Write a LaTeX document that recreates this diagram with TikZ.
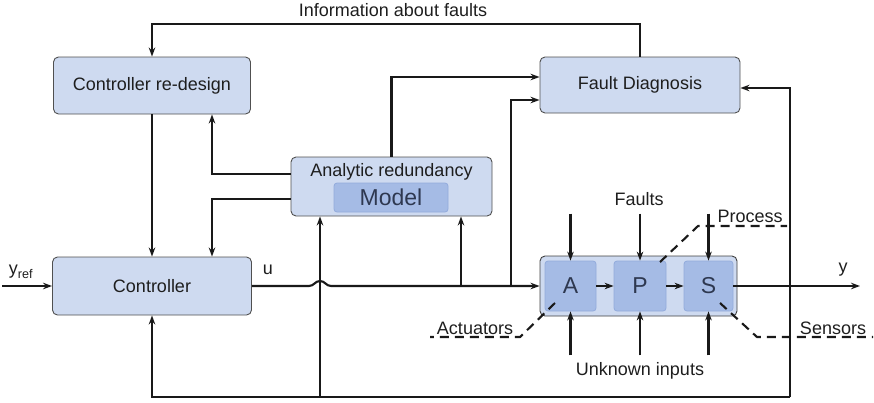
\documentclass[tikz,border=0pt]{standalone}
\usepackage{fontspec}
\setmainfont{Liberation Sans}
\usetikzlibrary{arrows.meta}
\definecolor{boxfill}{HTML}{CEDAF0}
\definecolor{innerfill}{HTML}{A5BBE5}
\definecolor{innerdraw}{HTML}{93ABDC}
\definecolor{boxdraw}{HTML}{505050}
\definecolor{txt}{HTML}{1E1E1E}
\definecolor{bigtxt}{HTML}{2E3850}
\begin{document}
\begin{tikzpicture}[x=1pt,y=-1pt,
  every node/.style={font=\fontsize{18}{21}\selectfont, text=txt, inner sep=0pt},
  blockbox/.style={draw=boxdraw, line width=0.9pt, fill=boxfill, rounded corners=5pt},
  innerbox/.style={draw=innerdraw, line width=0.8pt, fill=innerfill, rounded corners=3pt,
     font=\fontsize{23}{26}\selectfont, text=bigtxt},
  conn/.style={line width=2.1pt, draw=black!90},
  arr/.style={conn, -{Stealth[length=9pt,width=6.5pt]}},
  dashline/.style={line width=2.1pt, draw=black!90, dash pattern=on 9pt off 6pt}
]
\useasboundingbox (0,0) rectangle (874,402);

% blocks
\node[blockbox, minimum width=197pt, minimum height=57pt] (redesign) at (152,85.5) {Controller re-design};
\node[blockbox, minimum width=200pt, minimum height=56pt] (fd) at (640,85) {Fault Diagnosis};
\node[blockbox, minimum width=201pt, minimum height=59pt] (ar) at (391.5,186.5) {};
\node (artxt) at (391.5,172) {Analytic redundancy};
\node[innerbox, minimum width=114pt, minimum height=29pt] (model) at (391,197.5) {Model};
\node[blockbox, minimum width=199pt, minimum height=58pt] (ctrl) at (152,286) {Controller};
\node[blockbox, draw=boxdraw!80!black, minimum width=197pt, minimum height=60pt] (proc) at (638.5,286) {};
\node[innerbox, minimum width=51pt, minimum height=50pt] (A) at (570.5,286) {A};
\node[innerbox, minimum width=52pt, minimum height=50pt] (P) at (640,286) {P};
\node[innerbox, minimum width=49pt, minimum height=50pt] (S) at (708.5,286) {S};

% labels
\node (info) at (393,10) {Information about faults};
\node (ylab) at (21,272) {y\textsubscript{ref}};
\node (ulab) at (268,270) {u};
\node (youtlab) at (843,270) {y};
\node (faults) at (639,199) {Faults};
\node (unk) at (640,371) {Unknown inputs};
\node (proclab) at (750,216) {Process};
\node (actlab) at (475,328) {Actuators};
\node (senslab) at (833,328) {Sensors};

% coordinates
\coordinate (tl) at (152,24);
\coordinate (yin) at (2,286);
\coordinate (hop1) at (309,286);
\coordinate (hop2) at (331,286);
\coordinate (j1) at (461,286);
\coordinate (j2) at (511,286);
\coordinate (b1) at (790,397);
\coordinate (b2) at (320,397);
\coordinate (yend) at (860,286);

% connectors
\draw[arr] (fd.north) -- (fd.north |- tl) -| (redesign.north);
\draw[arr] (redesign.south) -- (ctrl.north);
\draw[arr] ([yshift=12.5pt]ar.west) -| ([xshift=60pt]redesign.south);
\draw[arr] ([yshift=-12.5pt]ar.west) -| ([xshift=60pt]ctrl.north);
\draw[arr] (ar.north) |- ([yshift=8pt]fd.west);
\draw[arr] (yin) -- (ctrl.west);
\draw[arr] (ctrl.east) -- (hop1) .. controls (314,286) and (315,281) .. (320,281)
   .. controls (325,281) and (326,286) .. (hop2) -- (proc.west);
\draw[arr] (j1) -- (j1 |- ar.south);
\draw[arr] (j2) |- ([yshift=-15pt]fd.west);
\draw[arr] (b1) |- ([yshift=-3pt]fd.east);
\draw[arr] (b1) -| (ctrl.south);
\draw[arr] (b2) -- (b2 |- ar.south);
\draw[arr] (S.east) -- (yend);
\draw[arr] (A.east) -- (P.west);
\draw[arr] (P.east) -- (S.west);

\foreach \n in {A,P,S}{
  \draw[arr] ([yshift=47pt]\n.north) -- (\n.north);
  \draw[arr] ([yshift=-44pt]\n.south) -- (\n.south);
}

% dashed leaders
\coordinate (pd1) at (660,262); \coordinate (pd2) at (698,226); \coordinate (pd3) at (787,226);
\coordinate (ad1) at (555,303); \coordinate (ad2) at (520,337); \coordinate (ad3) at (430,337);
\coordinate (sd1) at (720,303); \coordinate (sd2) at (757,337); \coordinate (sd3) at (873,337);
\draw[dashline] (pd1) -- (pd2) -- (pd3);
\draw[dashline] (ad1) -- (ad2) -- (ad3);
\draw[dashline] (sd1) -- (sd2) -- (sd3);
\end{tikzpicture}
\end{document}
